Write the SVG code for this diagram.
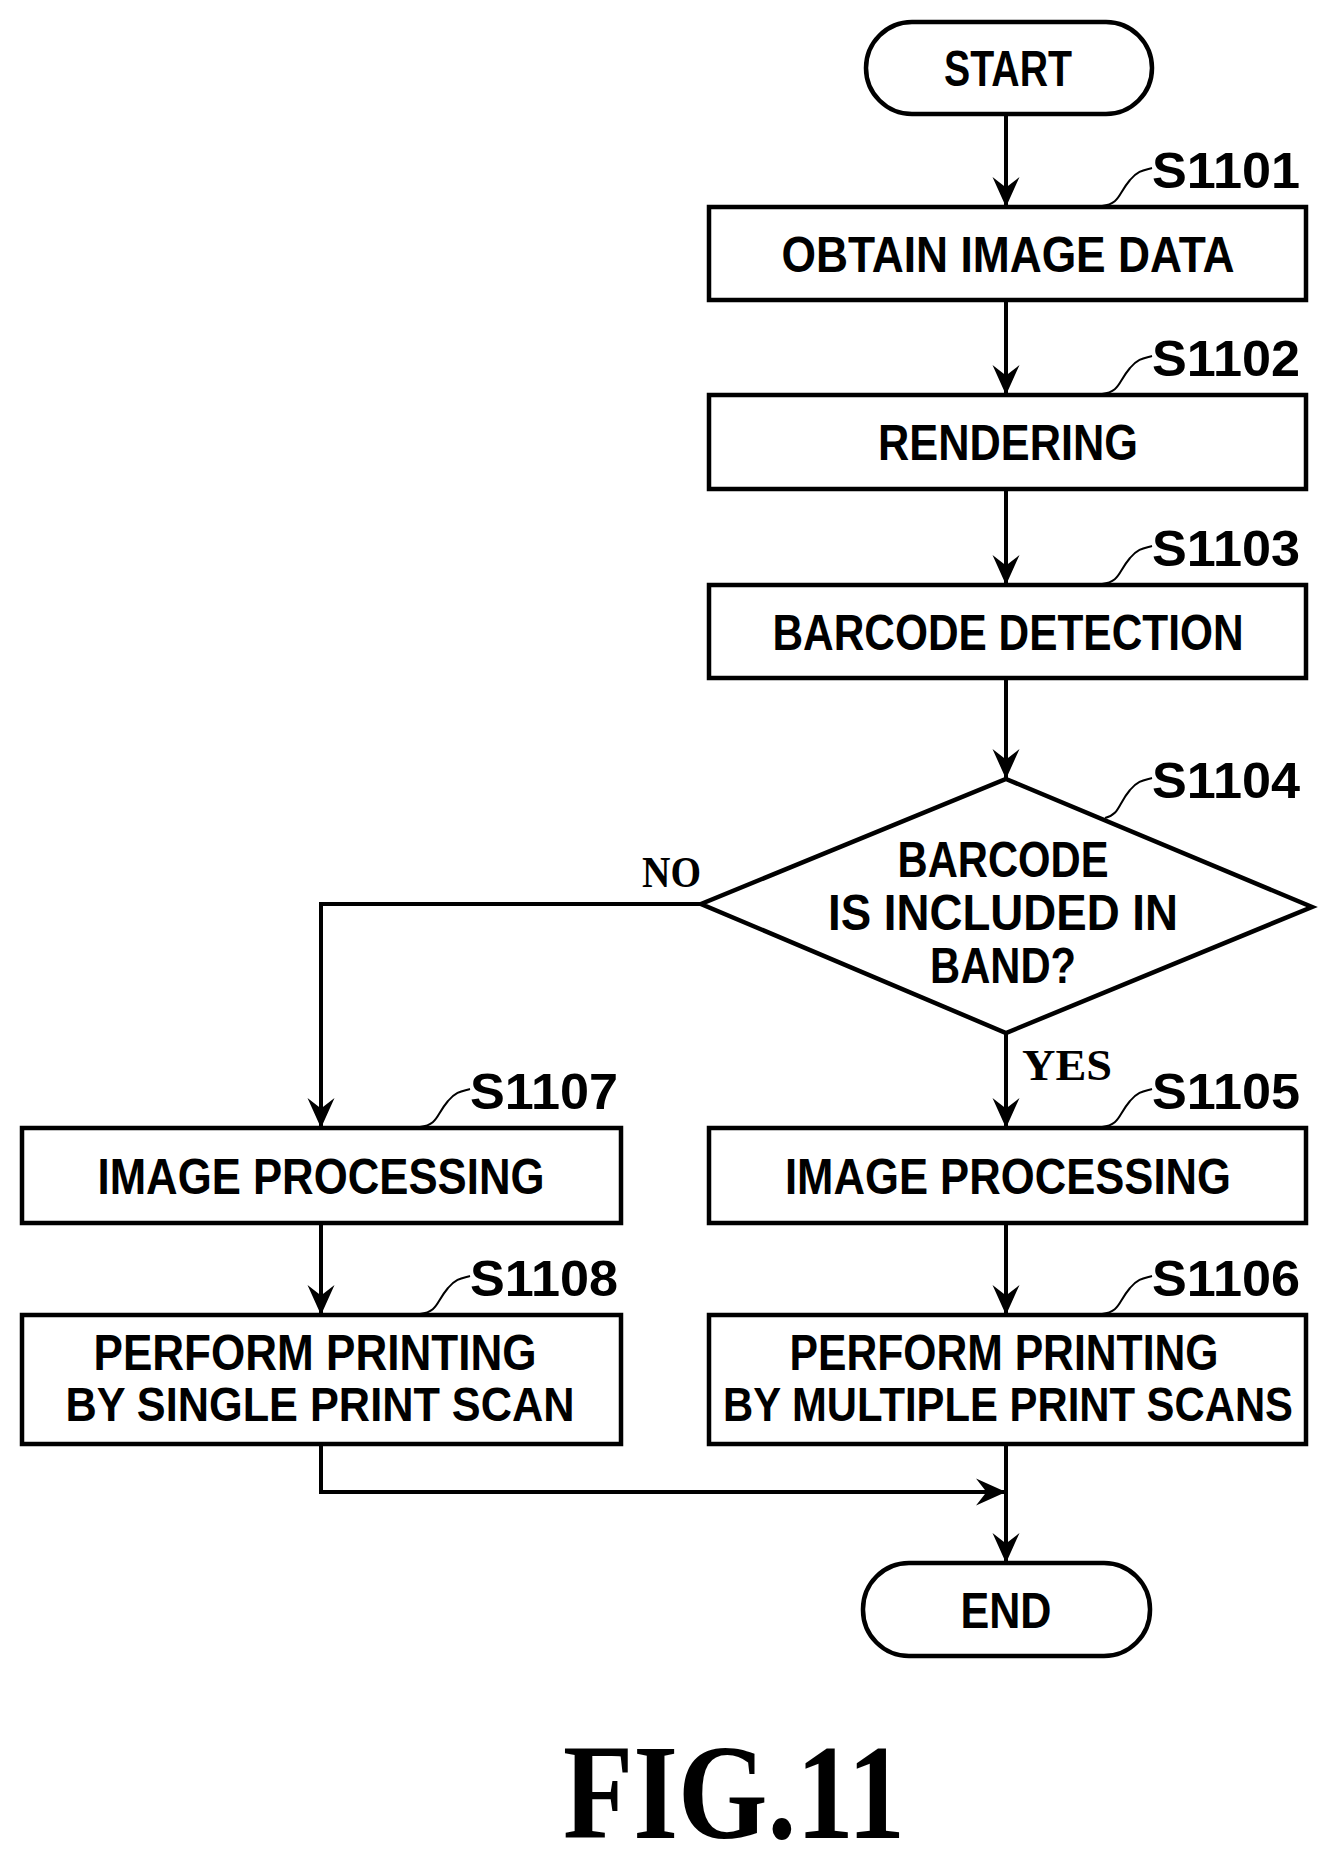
<svg xmlns="http://www.w3.org/2000/svg" width="1325" height="1865" viewBox="0 0 1325 1865">
<style>
.s{fill:#fff;stroke:#000;stroke-width:4.5}
.t{font-family:"Liberation Sans",Arial,sans-serif;font-weight:bold;font-size:50px;text-anchor:middle;fill:#000}
.l{font-family:"Liberation Sans",Arial,sans-serif;font-weight:bold;font-size:50px;fill:#000}
.c{fill:none;stroke:#000;stroke-width:4}
.q{fill:none;stroke:#000;stroke-width:2}
</style>
<defs><marker id="a" viewBox="0 0 20 20" refX="20" refY="10" markerWidth="30" markerHeight="30" markerUnits="userSpaceOnUse" orient="auto"><path d="M0,1 L20,10 L0,19 L7,10 Z" fill="#000"/></marker></defs>
<rect width="1325" height="1865" fill="#fff"/>
<g id="connectors">
<path class="c" d="M1006,114 V207" marker-end="url(#a)"/>
<path class="c" d="M1006,300 V395" marker-end="url(#a)"/>
<path class="c" d="M1006,489 V585" marker-end="url(#a)"/>
<path class="c" d="M1006,678 V779" marker-end="url(#a)"/>
<path class="c" d="M701,904 H321 V1128" marker-end="url(#a)"/>
<path class="c" d="M1006,1033 V1128" marker-end="url(#a)"/>
<path class="c" d="M321,1223 V1315" marker-end="url(#a)"/>
<path class="c" d="M1006,1223 V1315" marker-end="url(#a)"/>
<path class="c" d="M321,1444 V1492 H1006" marker-end="url(#a)"/>
<path class="c" d="M1006,1444 V1563" marker-end="url(#a)"/>
<text class="l" x="642" y="887" textLength="59" lengthAdjust="spacingAndGlyphs" style="font-family:'Liberation Serif',serif;font-size:44px">NO</text>
<text class="l" x="1022" y="1080" textLength="90" lengthAdjust="spacingAndGlyphs" style="font-family:'Liberation Serif',serif;font-size:44px">YES</text>
</g>
<g id="start"><rect class="s" x="866" y="22" width="286" height="92" rx="46"/><text class="t" x="1008" y="86" textLength="128" lengthAdjust="spacingAndGlyphs">START</text></g>
<g id="s1101"><rect class="s" x="709" y="207" width="597" height="93"/><text class="t" x="1008" y="272" textLength="453" lengthAdjust="spacingAndGlyphs">OBTAIN IMAGE DATA</text>
<path class="q" d="M1102,206 C1120,204 1118,194 1130,180 C1138,170 1145,170 1152,168"/><text class="l" x="1152" y="188" textLength="148" lengthAdjust="spacingAndGlyphs">S1101</text></g>
<g id="s1102"><rect class="s" x="709" y="395" width="597" height="94"/><text class="t" x="1008" y="460" textLength="260" lengthAdjust="spacingAndGlyphs">RENDERING</text>
<path class="q" d="M1102,394 C1120,392 1118,382 1130,368 C1138,358 1145,358 1152,356"/><text class="l" x="1152" y="376" textLength="148" lengthAdjust="spacingAndGlyphs">S1102</text></g>
<g id="s1103"><rect class="s" x="709" y="585" width="597" height="93"/><text class="t" x="1008" y="650" textLength="471" lengthAdjust="spacingAndGlyphs">BARCODE DETECTION</text>
<path class="q" d="M1102,584 C1120,582 1118,572 1130,558 C1138,548 1145,548 1152,546"/><text class="l" x="1152" y="566" textLength="148" lengthAdjust="spacingAndGlyphs">S1103</text></g>
<g id="s1104"><polygon class="s" points="1006,779 1312,907 1006,1033 701,904"/>
<text class="t" x="1003" y="877" textLength="211" lengthAdjust="spacingAndGlyphs">BARCODE</text>
<text class="t" x="1003" y="930" textLength="350" lengthAdjust="spacingAndGlyphs">IS INCLUDED IN</text>
<text class="t" x="1003" y="983" textLength="146" lengthAdjust="spacingAndGlyphs">BAND?</text>
<path class="q" d="M1105,818 C1120,814 1118,804 1130,790 C1138,780 1145,780 1152,778"/><text class="l" x="1152" y="798" textLength="148" lengthAdjust="spacingAndGlyphs">S1104</text></g>
<g id="s1105"><rect class="s" x="709" y="1128" width="597" height="95"/><text class="t" x="1008" y="1194" textLength="446" lengthAdjust="spacingAndGlyphs">IMAGE PROCESSING</text>
<path class="q" d="M1102,1127 C1120,1125 1118,1115 1130,1101 C1138,1091 1145,1091 1152,1089"/><text class="l" x="1152" y="1109" textLength="148" lengthAdjust="spacingAndGlyphs">S1105</text></g>
<g id="s1106"><rect class="s" x="709" y="1315" width="597" height="129"/>
<text class="t" x="1004" y="1370" textLength="429" lengthAdjust="spacingAndGlyphs">PERFORM PRINTING</text>
<text class="t" x="1008" y="1421" textLength="570" lengthAdjust="spacingAndGlyphs" style="font-size:48px">BY MULTIPLE PRINT SCANS</text>
<path class="q" d="M1102,1314 C1120,1312 1118,1302 1130,1288 C1138,1278 1145,1278 1152,1276"/><text class="l" x="1152" y="1296" textLength="148" lengthAdjust="spacingAndGlyphs">S1106</text></g>
<g id="s1107"><rect class="s" x="22" y="1128" width="599" height="95"/><text class="t" x="321" y="1194" textLength="447" lengthAdjust="spacingAndGlyphs">IMAGE PROCESSING</text>
<path class="q" d="M420,1127 C438,1125 436,1115 448,1101 C456,1091 463,1091 470,1089"/><text class="l" x="470" y="1109" textLength="148" lengthAdjust="spacingAndGlyphs">S1107</text></g>
<g id="s1108"><rect class="s" x="22" y="1315" width="599" height="129"/>
<text class="t" x="315" y="1370" textLength="443" lengthAdjust="spacingAndGlyphs">PERFORM PRINTING</text>
<text class="t" x="320" y="1421" textLength="509" lengthAdjust="spacingAndGlyphs" style="font-size:48px">BY SINGLE PRINT SCAN</text>
<path class="q" d="M420,1314 C438,1312 436,1302 448,1288 C456,1278 463,1278 470,1276"/><text class="l" x="470" y="1296" textLength="148" lengthAdjust="spacingAndGlyphs">S1108</text></g>
<g id="end"><rect class="s" x="863" y="1563" width="287" height="93" rx="46"/><text class="t" x="1006" y="1628" textLength="91" lengthAdjust="spacingAndGlyphs">END</text></g>
<text x="734" y="1838" text-anchor="middle" textLength="342" lengthAdjust="spacingAndGlyphs" style="font-family:'Liberation Serif',serif;font-weight:bold;font-size:136px">FIG.11</text>
</svg>
